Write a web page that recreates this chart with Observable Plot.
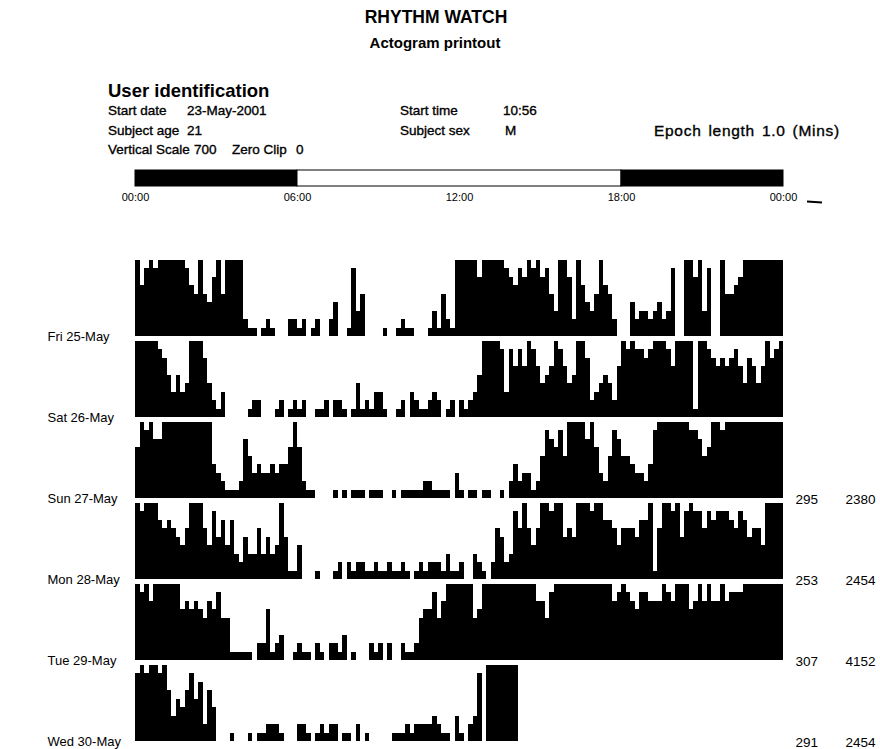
<!DOCTYPE html>
<html><head><meta charset="utf-8">
<script src="https://cdn.jsdelivr.net/npm/d3@7"></script>
<script src="https://cdn.jsdelivr.net/npm/@observablehq/plot@0.6"></script>
<style>
html,body{margin:0;padding:0;background:#fff;}
body{font-family:"Liberation Sans",Arial,sans-serif;color:#000;}
#page{position:relative;width:880px;height:749px;overflow:hidden;background:#fff;}
.t{position:absolute;white-space:nowrap;line-height:1;-webkit-text-stroke:0.35px #000;}
.abs{position:absolute;}
</style></head>
<body><div id="page"></div>
<script>
// ---------- data ----------
const days = ["Fri 25-May","Sat 26-May","Sun 27-May","Mon 28-May","Tue 29-May","Wed 30-May"];
const binMinutes = 10; // activity in 10-minute bins, level 0..9 (9 = full scale 700)
const fri = [9,6,8,9,8,9,9,9,9,9,9,8,6,5,9,5,4,7,9,5,9,9,9,9,
 2,1,1,0,1,2,1,0,0,0,2,2,1,2,0,1,2,0,0,2,4,0,0,1,
 8,3,5,0,0,0,0,1,0,0,1,2,1,1,0,0,0,1,3,1,5,2,1,9,
 9,9,9,9,7,9,9,9,9,9,8,7,6,8,7,9,8,9,7,8,5,3,9,9,
 7,2,9,6,4,3,5,9,6,5,2,0,0,0,4,2,3,3,2,3,4,2,3,8,
 0,0,9,9,7,9,3,8,0,0,9,5,5,6,7,9,9,9,9,9,9,9,9,9];
const sat = [9,9,9,9,9,8,7,5,3,5,3,4,9,9,9,7,4,2,1,3,0,0,0,0,
 0,1,2,2,0,0,0,1,2,0,1,2,1,2,0,0,1,1,2,0,2,2,1,0,
 1,4,1,2,1,3,3,1,0,0,1,2,0,3,2,1,1,2,3,2,0,1,2,0,
 2,1,2,3,5,9,9,9,9,8,3,8,6,8,6,9,8,6,4,5,6,9,8,6,
 4,5,9,9,7,2,3,4,5,4,2,6,9,8,9,8,8,7,8,9,9,9,8,6,
 9,9,9,9,1,9,9,8,7,6,7,6,7,8,6,4,7,6,4,6,9,7,8,9];
const sun = [6,9,8,9,7,7,9,9,9,9,9,9,9,9,9,9,9,4,3,2,1,1,1,2,
 7,5,3,4,3,3,4,3,4,4,6,9,6,2,1,1,0,0,0,0,1,0,1,0,
 1,1,1,0,1,1,1,0,0,1,0,1,1,1,1,1,2,2,1,1,1,1,0,3,
 1,0,1,1,0,1,1,0,0,1,0,2,4,2,3,3,1,2,5,8,7,6,8,5,
 9,9,9,9,7,9,6,3,2,5,8,7,5,5,4,3,3,2,4,8,9,9,9,9,
 9,9,9,8,8,7,5,6,9,9,8,9,9,9,9,9,9,9,9,9,9,9,9,9];
const mon = [9,8,9,9,9,7,6,7,6,5,4,6,9,9,9,6,4,8,5,7,4,7,3,2,
 5,3,3,6,3,5,3,4,9,5,1,1,4,0,0,0,1,0,0,0,1,2,0,2,
 1,2,2,1,1,2,1,1,2,1,1,2,1,0,1,2,1,2,2,2,1,3,1,1,
 2,0,0,3,2,1,0,2,6,5,2,3,8,6,9,6,4,6,9,9,8,9,9,5,
 6,5,9,9,9,8,9,9,7,7,6,4,6,6,6,5,7,7,9,1,6,9,9,8,
 9,5,8,9,8,8,6,8,7,8,8,8,7,6,8,7,5,6,6,4,9,9,9,9];
const tue = [9,8,9,7,9,9,9,9,9,9,6,7,6,7,6,5,7,6,8,5,5,1,1,1,
 1,1,0,2,2,6,1,2,3,0,0,1,2,1,1,0,2,1,0,2,2,1,3,0,
 1,0,0,0,2,1,2,0,2,0,0,2,1,1,2,5,6,6,8,5,7,9,9,9,
 9,9,9,5,6,9,9,9,9,9,9,9,9,9,9,9,9,7,7,5,8,9,9,9,
 9,9,9,9,9,9,9,9,9,9,7,8,9,8,7,6,8,8,7,7,7,9,8,7,
 9,9,9,6,7,9,7,9,7,7,9,7,8,8,8,9,9,9,9,9,9,9,9,9];
const wed = [8,9,8,9,9,8,9,6,3,5,4,6,8,5,7,2,6,4,0,0,0,1,0,0,
 0,1,0,1,1,2,2,2,1,0,0,0,2,2,1,0,1,2,1,2,2,0,1,1,
 0,2,0,1,0,0,0,0,0,1,1,1,2,1,2,2,2,2,3,2,1,1,0,3,
 1,0,2,3,8,0,9,9,9,9,9,9,9];
const series = [fri, sat, sun, mon, tue, wed];
const totalA = [null, null, 295, 253, 307, 291];
const totalB = [null, null, 2380, 2454, 4152, 2454];
const periodStart = [0, 6, 18];
const periodEnd = [6, 18, 24];
const periodFill = ["black", "white", "black"];
const tickHours = [0, 6, 12, 18, 24];
const tickLabels = ["00:00", "06:00", "12:00", "18:00", "00:00"];

// ---------- page ----------
const page = document.getElementById("page");
const FONT = '"Liberation Sans", Arial, sans-serif';
function label(text, x, cy, size, weight, anchor, extra) {
  const d = document.createElement("div");
  d.className = "t";
  d.textContent = text;
  d.style.fontSize = size + "px";
  d.style.fontWeight = weight || "normal";
  d.style.top = (cy - size * 0.5) + "px";
  d.style.left = x + "px";
  if (anchor === "middle") d.style.transform = "translateX(-50%)";
  if (extra) Object.assign(d.style, extra);
  page.appendChild(d);
  return d;
}
label("RHYTHM WATCH", 436, 18, 17.5, "bold", "middle", {webkitTextStroke: "0px"});
label("Actogram printout", 435, 42, 15, "bold", "middle", {webkitTextStroke: "0px"});
label("User identification", 108, 91, 18.5, "bold", null, {webkitTextStroke: "0px"});
label("Start date", 108, 111, 13.5);
label("23-May-2001", 187, 111, 13.5);
label("Subject age", 108, 131, 13.5);
label("21", 187, 131, 13.5);
label("Vertical Scale", 108, 150, 13.5);
label("700", 194, 150, 13.5);
label("Zero Clip", 232, 150, 13.5);
label("0", 296, 150, 13.5);
label("Start time", 400, 111, 13.5);
label("10:56", 503, 111, 13.5);
label("Subject sex", 400, 131, 13.5);
label("M", 505, 131, 13.5);
label("Epoch length 1.0 (Mins)", 654, 131, 15.5, "normal", null, {letterSpacing: "0.7px", wordSpacing: "2px"});

// time-of-day bar
const periods = periodStart.map((s, i) => ({s, e: periodEnd[i], fill: periodFill[i]}));
const bar = Plot.plot({
  width: 880, height: 50,
  marginLeft: 135, marginRight: 97, marginTop: 10, marginBottom: 24,
  x: {domain: [0, 24]},
  color: {type: "identity"},
  style: {fontFamily: FONT, color: "black", background: "transparent", overflow: "visible"},
  marks: [
    Plot.rect(periods, {x1: "s", x2: "e", fill: "fill", stroke: "black", strokeWidth: 1}),
    Plot.axisX(tickHours, {tickSize: 0, tickPadding: 7, fontSize: 11, fill: "black",
      tickFormat: d => tickLabels[tickHours.indexOf(d)], label: null})
  ]
});
bar.classList.add("abs");
bar.style.left = "0px"; bar.style.top = "160px";
page.appendChild(bar);

const dash = document.createElement("div");
dash.className = "abs";
Object.assign(dash.style, {left: "807px", top: "201px", width: "15px", height: "2px", background: "#000", transform: "rotate(4deg)"});
page.appendChild(dash);

// actogram rows
const rows = series.flatMap((vals, d) => vals.map((v, i) => ({
  day: days[d], start: i * binMinutes / 60, end: (i + 1) * binMinutes / 60, level: v
})));
const totals = days.map((day, i) => ({day, a: totalA[i], b: totalB[i]})).filter(r => r.a != null);

const chart = Plot.plot({
  width: 880, height: 493,
  marginLeft: 135, marginRight: 97, marginTop: 4, marginBottom: 6,
  x: {domain: [0, 24], axis: null},
  y: {domain: [0, 9], axis: null},
  fy: {domain: days, paddingInner: 0.0663, paddingOuter: 0, axis: null},
  style: {fontFamily: FONT, color: "black", background: "transparent", overflow: "visible"},
  marks: [
    Plot.rect(rows, {x1: "start", x2: "end", y1: 0, y2: "level", fy: "day", fill: "black", shapeRendering: "crispEdges"}),
    Plot.text(days, {fy: d => d, text: d => d, frameAnchor: "bottom-left", dx: -88, dy: 0,
      textAnchor: "start", lineAnchor: "middle", fontSize: 13, fill: "black"}),
    Plot.text(totals, {fy: "day", text: d => String(d.a), frameAnchor: "bottom-right", dx: 12, dy: 1,
      textAnchor: "start", lineAnchor: "middle", fontSize: 13.5, fill: "black"}),
    Plot.text(totals, {fy: "day", text: d => String(d.b), frameAnchor: "bottom-right", dx: 62, dy: 1,
      textAnchor: "start", lineAnchor: "middle", fontSize: 13.5, fill: "black"})
  ]
});
chart.classList.add("abs");
chart.style.left = "0px"; chart.style.top = "255px";
page.appendChild(chart);
</script>
</body></html>
